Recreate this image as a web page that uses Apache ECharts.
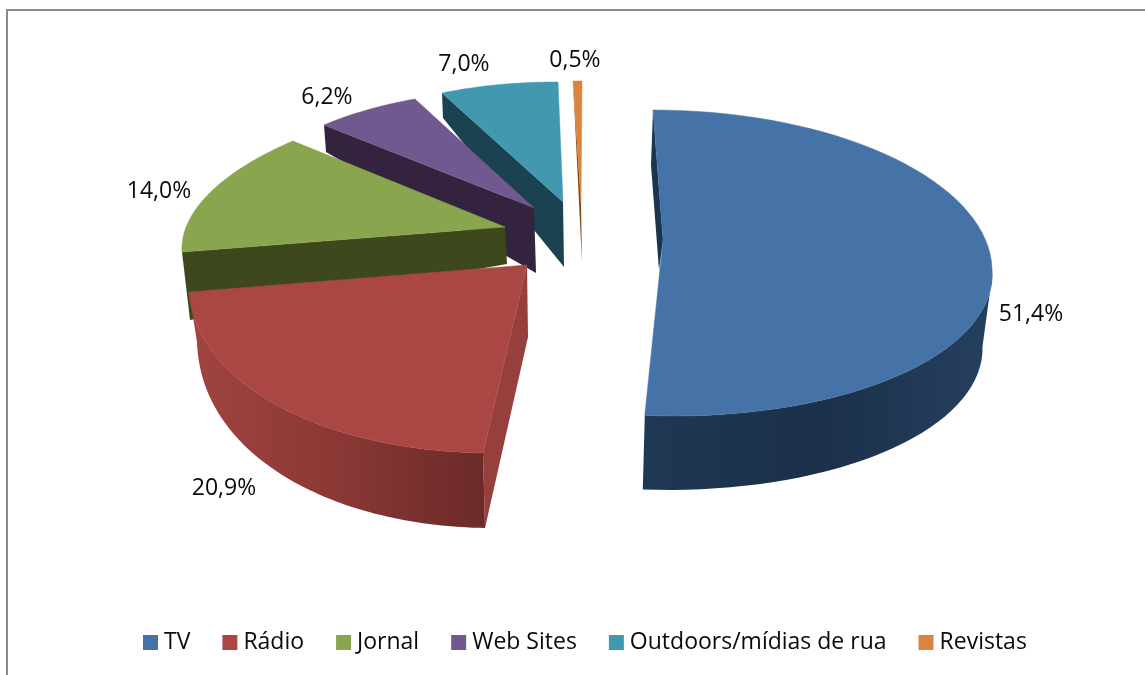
<!DOCTYPE html>
<html><head><meta charset="utf-8">
<style>html,body{margin:0;padding:0;background:#fff}#c{width:1145px;height:675px}</style>
<script src="https://cdn.jsdelivr.net/npm/echarts@6/dist/echarts.min.js"></script>
</head><body><div id="c"></div>
<script>
var categories = ['TV','Rádio','Jornal','Web Sites','Outdoors/mídias de rua','Revistas'];
var shares = [51.4,20.9,14.0,6.2,7.0,0.5];
var colors = ['#4572A7','#AA4643','#89A54E','#71588F','#4198AF','#DB843D'];
var FONT = 'Open Sans';

// Projection of each exploded wedge (tilted 3D look); style only, no data values.
var look = [
 {c:[660,268],apex:[663,240],U:[-7,-158],D:[14,148],R:[332,0],
  wallA:[-10,72],wallB:[-2,74],wallFrom:90,wallTo:185,ease:1,wallTop:[[0,'#25405F'],[0.5,'#1B3049'],[1,'#1F3853']],
  d0:[-2,55],d1:[-4,30],face:'#1B3450',lab:[1031,314.5],z:6},
 {c:[527,265],p0:[483,453],p1:[189,292],bulge:0.035,
  wallA:[2,75],wallB:[8,50],wallFrom:185,wallTo:260,ease:2,
  wallTop:[[0,'#A04441'],[0.5,'#8A3835'],[1,'#6B2A28']],
  d0:[2,75],d1:[1,72],face:'#973F3C',lab:[224,488.5],z:5},
 {c:[505,227],p0:[182,252],p1:[293,141],d0:[8,68],d1:[2,37],face:'#3D491D',lab:[159,191.5],z:4},
 {c:[534,208],p0:[324,125],p1:[415,99],d0:[2,27],d1:[2,65],face:'#33233F',lab:[327,97.5],z:3},
 {c:[563,202],p0:[442,93],p1:[558,82],d0:[1,25],d1:[1,65],face:'#1B4250',lab:[464,64.5],z:2},
 {c:[581,203],p0:[573,81],p1:[582,81],d0:[0,0],d1:[1,60],face:'#7A4A1E',lab:[575,60.5],z:1}
];

var total = shares.reduce(function(a,b){return a+b;},0);
var RAD = Math.PI/180;
function angleRange(i){
  var s = 0;
  for (var k=0;k<i;k++) s += shares[k];
  return [s/total*360, (s+shares[i])/total*360];
}
function solver(l, a0, a1){
  if (l.U) return function(a){
    var co=Math.cos(a*RAD), si=Math.sin(a*RAD), V = co>=0? l.U : [-l.D[0],-l.D[1]];
    return [l.c[0]+V[0]*co+l.R[0]*si, l.c[1]+V[1]*co+l.R[1]*si];
  };
  var c0=Math.cos(a0*RAD),s0=Math.sin(a0*RAD),c1=Math.cos(a1*RAD),s1=Math.sin(a1*RAD);
  var P=[l.p0[0]-l.c[0],l.p0[1]-l.c[1]],Q=[l.p1[0]-l.c[0],l.p1[1]-l.c[1]];
  var det=c0*s1-s0*c1;
  var u=[(P[0]*s1-Q[0]*s0)/det,(P[1]*s1-Q[1]*s0)/det];
  var v=[(c0*Q[0]-c1*P[0])/det,(c0*Q[1]-c1*P[1])/det];
  var b=l.bulge||0;
  return function(a){
    var co=Math.cos(a*RAD), si=Math.sin(a*RAD), m=1+b*Math.sin(Math.PI*(a-a0)/(a1-a0));
    return [l.c[0]+m*(u[0]*co+v[0]*si), l.c[1]+m*(u[1]*co+v[1]*si)];
  };
}
function fmt(v){ return v.toFixed(1).replace('.',',')+'%'; }

function makeRender(i){
  return function(params, api){
    var l = look[i], r = angleRange(i), val = api.value(0), a0=r[0], a1=r[1];
    var f = solver(l,a0,a1), n = 72, rim = [], k;
    for (k=0;k<=n;k++) rim.push(f(a0+(a1-a0)*k/n));
    var apex = l.apex || l.c, kids = [];
    var first = rim[0];
    var add = function(p,d){return [p[0]+d[0],p[1]+d[1]];};
    kids.push({type:'polygon',shape:{points:[first,apex,add(apex,l.d1),add(first,l.d0)]},
      style:{fill:l.face}});
    if (l.wallA){
      var front=[],back=[];
      for (k=0;k<=n;k++){
        var a=a0+(a1-a0)*k/n;
        if (a<90||a>270) continue;
        var p=f(a);
        var t=Math.pow(Math.min(1,Math.max(0,(a-l.wallFrom)/(l.wallTo-l.wallFrom))),l.ease);
        var d=[l.wallA[0]+(l.wallB[0]-l.wallA[0])*t,l.wallA[1]+(l.wallB[1]-l.wallA[1])*t];
        front.push(p); back.unshift(add(p,d));
      }
      kids.push({type:'polygon',shape:{points:front.concat(back)},
        style:{fill:{type:'linear',x:i===0?1:0,y:0,x2:i===0?0:1,y2:0,
          colorStops:l.wallTop.map(function(s){return {offset:s[0],color:s[1]};})}}});
    }
    kids.push({type:'polygon',shape:{points:[apex].concat(rim)},
      style:{fill:colors[i],stroke:colors[i],lineWidth:0.5}});
    kids.push({type:'text',style:{text:fmt(val),x:l.lab[0],y:l.lab[1],align:'center',verticalAlign:'middle',
      fill:'#0A0A0A',font:'23px "'+FONT+'"'}});
    return {type:'group',children:kids};
  };
}

var series = categories.map(function(name,i){
  return {type:'custom',name:name,coordinateSystem:'none',silent:true,z:look[i].z,
    itemStyle:{color:colors[i]},data:[[shares[i]]],renderItem:makeRender(i),animation:false};
});

var chart = echarts.init(document.getElementById('c'),null,{renderer:'canvas'});
chart.setOption({
  animation:false,
  backgroundColor:'#fff',
  graphic:[{type:'rect',silent:true,shape:{x:7,y:10,width:1300,height:900},style:{fill:'none',stroke:'#8A8A8A',lineWidth:2}}],
  legend:{data:categories,left:143,top:631,padding:0,itemWidth:15,itemHeight:15,itemGap:32,icon:'rect',selectedMode:false,
    textStyle:{fontFamily:FONT,fontSize:23,color:'#0A0A0A',padding:[0,0,0,1]}},
  series:series
});
</script></body></html>
